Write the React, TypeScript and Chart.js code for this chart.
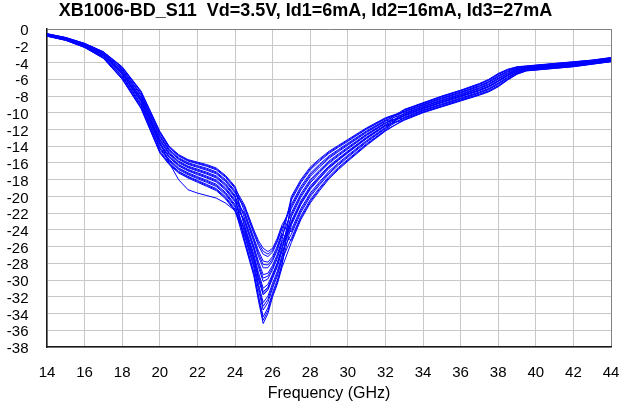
import { useEffect, useRef } from "react";
import { Chart, registerables } from "chart.js";

Chart.register(...registerables);

const chartTitle = "XB1006-BD_S11  Vd=3.5V, Id1=6mA, Id2=16mA, Id3=27mA";
const xAxisTitle = "Frequency (GHz)";

const xRange = [14, 44];
const xStep = 2;
const yRange = [-38, 0];
const yStep = 2;

// Frequency points (GHz)
const freqGHz = [
  14, 15, 16, 17, 18, 19, 20, 20.5, 21, 21.5, 22, 22.5, 23, 23.5, 24, 24.5, 25,
  25.25, 25.5, 25.75, 26, 26.25, 26.5, 27, 27.5, 28, 28.5, 29, 29.5, 30, 31, 32,
  33, 34, 35, 36, 37, 37.5, 38, 38.5, 39, 39.5, 40, 41, 42, 43, 44,
];

// S11 (dB) traces, one per measured part
const s11_01 = [
  -0.55, -1.0, -1.7, -2.7, -4.5, -7.4, -12.2, -14.0, -15.0, -15.6, -15.9, -16.2, -16.6, -17.5, -18.8,
  -21.77, -24.94, -26.52, -27.73, -27.86, -27.19, -25.94, -24.27,
  -20.44, -18.38, -16.84, -15.8, -14.86, -14.13, -13.41, -11.97, -10.73,
  -9.94, -9.11, -8.34, -7.64, -6.86, -6.39, -5.72, -5.14, -4.73, -4.56, -4.46, -4.26, -4.06, -3.83, -3.53,
];
const s11_02 = [
  -0.57, -1.03, -1.74, -2.76, -4.62, -7.57, -12.41, -14.18, -15.18, -15.78, -16.09, -16.41, -16.82, -17.72, -19.04,
  -21.0, -24.0, -25.3, -26.2, -26.6, -26.2, -25.0, -23.4,
  -21.43, -19.25, -17.62, -16.49, -15.46, -14.65, -13.88, -12.35, -11.02,
  -9.6, -8.8, -8.0, -7.3, -6.5, -6.0, -5.3, -4.8, -4.5, -4.4, -4.3, -4.1, -3.9, -3.7, -3.4,
];
const s11_03 = [
  -0.6, -1.06, -1.79, -2.84, -4.76, -7.76, -12.64, -14.37, -15.37, -15.97, -16.31, -16.64, -17.06, -17.98, -19.31,
  -22.58, -25.93, -27.82, -29.35, -29.19, -28.23, -26.93, -25.19,
  -20.0, -18.0, -16.5, -15.5, -14.6, -13.9, -13.2, -11.8, -10.6,
  -9.82, -9.0, -8.22, -7.52, -6.74, -6.26, -5.57, -5.02, -4.65, -4.5, -4.4, -4.2, -4.0, -3.79, -3.49,
];
const s11_04 = [
  -0.63, -1.09, -1.83, -2.91, -4.89, -7.95, -12.88, -14.57, -15.57, -16.17, -16.52, -16.88, -17.3, -18.23, -19.58,
  -21.36, -24.44, -25.88, -26.92, -27.19, -26.66, -25.44, -23.81,
  -20.94, -18.82, -17.23, -16.15, -15.16, -14.39, -13.64, -12.16, -10.87,
  -10.17, -9.33, -8.57, -7.87, -7.12, -6.66, -6.0, -5.37, -4.9, -4.66, -4.56, -4.36, -4.16, -3.92, -3.62,
];
const s11_05 = [
  -0.66, -1.12, -1.88, -2.98, -5.03, -8.14, -13.11, -14.77, -15.77, -16.37, -16.74, -17.11, -17.55, -18.48, -19.85,
  -23.39, -26.92, -29.12, -30.97, -30.52, -29.27, -27.92, -26.1,
  -22.42, -20.11, -18.39, -17.17, -16.05, -15.18, -14.34, -12.72, -11.3,
  -9.7, -8.9, -8.1, -7.4, -6.61, -6.12, -5.43, -4.9, -4.57, -4.45, -4.35, -4.15, -3.95, -3.74, -3.44,
];
const s11_06 = [
  -0.68, -1.15, -1.92, -3.05, -5.16, -8.32, -13.34, -14.97, -15.97, -16.57, -16.96, -17.34, -17.79, -18.73, -20.12,
  -22.17, -25.43, -27.17, -28.54, -28.52, -27.71, -26.43, -24.73,
  -21.93, -19.68, -18.01, -16.83, -15.76, -14.92, -14.11, -12.54, -11.16,
  -10.41, -9.54, -8.81, -8.11, -7.37, -6.93, -6.29, -5.61, -5.06, -4.77, -4.67, -4.47, -4.27, -4.01, -3.71,
];
const s11_07 = [
  -0.71, -1.19, -1.97, -3.12, -5.3, -8.51, -13.58, -15.17, -16.17, -16.77, -17.17, -17.58, -18.03, -18.98, -20.39,
  -24.24, -27.96, -30.48, -32.68, -31.93, -30.38, -28.96, -27.07,
  -22.92, -20.54, -18.78, -17.51, -16.35, -15.44, -14.58, -12.91, -11.45,
  -10.06, -9.22, -8.46, -7.76, -6.99, -6.53, -5.86, -5.26, -4.82, -4.61, -4.51, -4.31, -4.11, -3.88, -3.58,
];
const s11_08 = [
  -0.74, -1.22, -2.01, -3.2, -5.43, -8.7, -13.81, -15.36, -16.36, -16.96, -17.39, -17.81, -18.27, -19.24, -20.66,
  -22.98, -26.42, -28.47, -30.16, -29.86, -28.75, -27.42, -25.64,
  -23.96, -21.46, -19.6, -18.24, -16.98, -15.99, -15.07, -13.31, -11.75,
  -10.29, -9.44, -8.69, -7.99, -7.24, -6.8, -6.15, -5.49, -4.98, -4.72, -4.62, -4.42, -4.22, -3.97, -3.67,
];
const s11_09 = [
  -0.77, -1.25, -2.06, -3.28, -5.58, -8.91, -14.07, -15.58, -16.58, -17.18, -17.63, -18.07, -18.54, -19.52, -20.96,
  -25.1, -29.01, -31.85, -34.39, -33.33, -31.48, -30.01, -28.04,
  -23.41, -20.98, -19.17, -17.86, -16.65, -15.7, -14.81, -13.1, -11.59,
  -10.67, -9.78, -9.07, -8.37, -7.65, -7.23, -6.61, -5.87, -5.24, -4.89, -4.79, -4.59, -4.39, -4.11, -3.81,
];
const s11_10 = [
  -0.8, -1.29, -2.11, -3.36, -5.73, -9.12, -14.33, -15.8, -16.8, -17.4, -17.87, -18.33, -18.81, -19.8, -21.26,
  -23.79, -27.41, -29.76, -31.78, -31.19, -29.8, -28.41, -26.56,
  -24.51, -21.94, -20.03, -18.62, -17.31, -16.28, -15.33, -13.52, -11.91,
  -10.54, -9.66, -8.94, -8.24, -7.51, -7.08, -6.45, -5.74, -5.15, -4.83, -4.73, -4.53, -4.33, -4.06, -3.76,
];
const s11_11 = [
  -0.82, -1.32, -2.16, -3.43, -5.87, -9.31, -14.57, -16.0, -17.0, -17.6, -18.08, -18.57, -19.06, -20.05, -21.53,
  -25.5, -29.5, -32.5, -35.2, -34.0, -32.0, -30.5, -28.5,
  -25.5, -22.8, -20.8, -19.3, -17.9, -16.8, -15.8, -13.9, -12.2,
  -10.78, -9.89, -9.18, -8.48, -7.77, -7.37, -6.76, -5.98, -5.32, -4.95, -4.85, -4.65, -4.45, -4.16, -3.86,
];
const s11_12 = [
  -0.85, -1.35, -2.2, -3.5, -6.0, -9.5, -14.8, -16.2, -17.2, -17.8, -18.3, -18.8, -19.3, -20.3, -21.8,
  -24.69, -28.51, -31.2, -33.58, -32.67, -30.96, -29.51, -27.58,
  -25.01, -22.37, -20.41, -18.96, -17.6, -16.54, -15.57, -13.71, -12.06,
  -10.9, -10.0, -9.3, -8.6, -7.9, -7.5, -6.9, -6.1, -5.4, -5.0, -4.9, -4.7, -4.5, -4.2, -3.9,
];
const s11_13 = [
  -0.7, -1.18, -1.96, -3.1, -5.25, -8.45, -13.5, -16.0, -18.0, -19.2, -19.6, -19.9, -20.2, -20.8, -21.7,
  -24.0, -27.6, -30.0, -31.6, -31.0, -29.5, -28.0, -26.2,
  -23.2, -20.8, -19.0, -17.7, -16.5, -15.6, -14.7, -13.0, -11.5,
  -10.3, -9.5, -8.7, -8.0, -7.3, -6.85, -6.2, -5.5, -5.0, -4.75, -4.65, -4.45, -4.25, -4.0, -3.7,
];
const s11_14 = [
  -0.56, -1.02, -1.72, -2.73, -4.56, -7.49, -12.31, -14.09, -15.09, -15.69, -16.0, -16.31, -16.71, -17.61, -18.92,
  -23.59, -27.17, -29.44, -31.38, -30.86, -29.54, -28.17, -26.33,
  -21.19, -19.04, -17.43, -16.32, -15.31, -14.52, -13.76, -12.26, -10.95,
  -10.61, -9.72, -9.01, -8.31, -7.58, -7.16, -6.53, -5.81, -5.2, -4.86, -4.76, -4.56, -4.36, -4.09, -3.79,
];
const s11_15 = [
  -0.62, -1.08, -1.81, -2.88, -4.83, -7.86, -12.76, -14.47, -15.47, -16.07, -16.42, -16.76, -17.18, -18.11, -19.45,
  -21.18, -24.22, -25.59, -26.56, -26.9, -26.43, -25.22, -23.61,
  -24.24, -21.7, -19.82, -18.43, -17.15, -16.14, -15.2, -13.42, -11.83,
  -10.12, -9.28, -8.52, -7.82, -7.06, -6.6, -5.93, -5.32, -4.86, -4.64, -4.54, -4.34, -4.14, -3.9, -3.6,
];
const s11_16 = [
  -0.67, -1.14, -1.9, -3.02, -5.1, -8.23, -13.23, -14.87, -15.87, -16.47, -16.85, -17.23, -17.67, -18.61, -19.99,
  -25.3, -29.26, -32.18, -34.8, -33.67, -31.74, -30.26, -28.27,
  -20.22, -18.19, -16.67, -15.65, -14.73, -14.02, -13.31, -11.89, -10.67,
  -9.88, -9.06, -8.28, -7.58, -6.8, -6.33, -5.65, -5.08, -4.69, -4.53, -4.43, -4.23, -4.03, -3.81, -3.51,
];
const s11_17 = [
  -0.73, -1.21, -1.99, -3.16, -5.37, -8.61, -13.7, -15.27, -16.27, -16.87, -17.28, -17.7, -18.15, -19.11, -20.53,
  -21.97, -25.19, -26.85, -28.14, -28.19, -27.45, -26.19, -24.5,
  -25.26, -22.59, -20.61, -19.13, -17.75, -16.67, -15.69, -13.81, -12.13,
  -9.65, -8.85, -8.05, -7.35, -6.56, -6.06, -5.37, -4.85, -4.54, -4.43, -4.33, -4.13, -3.93, -3.72, -3.42,
];
const s11_18 = [
  -0.79, -1.27, -2.09, -3.32, -5.66, -9.02, -14.2, -15.69, -16.69, -17.29, -17.75, -18.2, -18.68, -19.66, -21.11,
  -22.78, -26.18, -28.15, -29.76, -29.53, -28.49, -27.18, -25.42,
  -23.17, -20.76, -18.98, -17.69, -16.5, -15.57, -14.7, -13.01, -11.52,
  -10.84, -9.95, -9.24, -8.54, -7.84, -7.44, -6.83, -6.04, -5.36, -4.98, -4.88, -4.68, -4.48, -4.18, -3.88,
];
const s11_19 = [
  -0.84, -1.34, -2.18, -3.47, -5.94, -9.41, -14.69, -16.1, -17.1, -17.7, -18.19, -18.69, -19.18, -20.18, -21.67,
  -24.47, -28.24, -30.84, -33.13, -32.3, -30.67, -29.24, -27.33,
  -22.18, -19.9, -18.2, -17.0, -15.91, -15.05, -14.23, -12.63, -11.23,
  -10.35, -9.49, -8.75, -8.05, -7.31, -6.87, -6.22, -5.55, -5.02, -4.75, -4.65, -4.45, -4.25, -3.99, -3.69,
];

const s11Traces = [
  s11_01, s11_02, s11_03, s11_04, s11_05, s11_06, s11_07, s11_08, s11_09, s11_10,
  s11_11, s11_12, s11_13, s11_14, s11_15, s11_16, s11_17, s11_18, s11_19,
];

const FONT = "'Liberation Sans', Arial, Helvetica, sans-serif";

export default function App() {
  const canvasRef = useRef<HTMLCanvasElement | null>(null);

  useEffect(() => {
    const canvas = canvasRef.current;
    if (!canvas) return;
    const datasets = s11Traces.map((trace, i) => ({
      label: `S11 #${i + 1}`,
      data: trace.map((v, j) => ({ x: freqGHz[j], y: v })),
      borderColor: "#0000ff",
      backgroundColor: "#0000ff",
      borderWidth: 1,
      pointRadius: 0,
      tension: 0,
      fill: false,
    }));

    const chart = new Chart(canvas, {
      type: "line",
      data: { datasets },
      options: {
        animation: false,
        responsive: false,
        devicePixelRatio: 1,
        layout: { padding: { left: 0, right: 10, top: 0, bottom: 0 } },
        plugins: {
          legend: { display: false },
          tooltip: { enabled: false },
          title: {
            display: true,
            text: chartTitle,
            color: "#000",
            font: { family: FONT, size: 18, weight: "bold" },
            padding: { top: 0, bottom: 7.5 },
          },
        },
        scales: {
          x: {
            type: "linear",
            min: xRange[0],
            max: xRange[1],
            afterFit: (s: any) => {
              s.height = 59;
              s.paddingLeft = 0;
              s.paddingRight = 0;
            },
            ticks: {
              stepSize: xStep,
              autoSkip: false,
              color: "#000",
              padding: 17,
              font: { family: FONT, size: 15 },
              maxRotation: 0,
            },
            grid: {
              drawTicks: false,
              tickLength: 0,
              lineWidth: 1,
              color: (ctx: any) =>
                ctx.tick && ctx.tick.value === xRange[1] ? "#808080" : "#c8c8c8",
            },
            border: { color: "#1a1a1a", width: 1.5 },
            title: {
              display: true,
              text: xAxisTitle,
              color: "#000",
              font: { family: FONT, size: 16 },
              padding: { top: 0, bottom: 2.4 },
            },
          },
          y: {
            type: "linear",
            min: yRange[0],
            max: yRange[1],
            afterFit: (s: any) => {
              s.width = 47;
              s.paddingTop = 0;
              s.paddingBottom = 0;
            },
            ticks: {
              stepSize: yStep,
              autoSkip: false,
              color: "#000",
              padding: 18.5,
              labelOffset: 2,
              font: { family: FONT, size: 15 },
            },
            grid: {
              drawTicks: false,
              tickLength: 0,
              lineWidth: 1,
              color: (ctx: any) =>
                ctx.tick && ctx.tick.value === yRange[1] ? "#808080" : "#c8c8c8",
            },
            border: { color: "#1a1a1a", width: 1.5 },
          },
        },
      },
    });
    return () => chart.destroy();
  }, []);

  return (
    <div style={{ position: "absolute", left: 0, top: 0, width: 621, height: 406, background: "#fff" }}>
      <canvas ref={canvasRef} width={621} height={406} style={{ display: "block" }} />
    </div>
  );
}
